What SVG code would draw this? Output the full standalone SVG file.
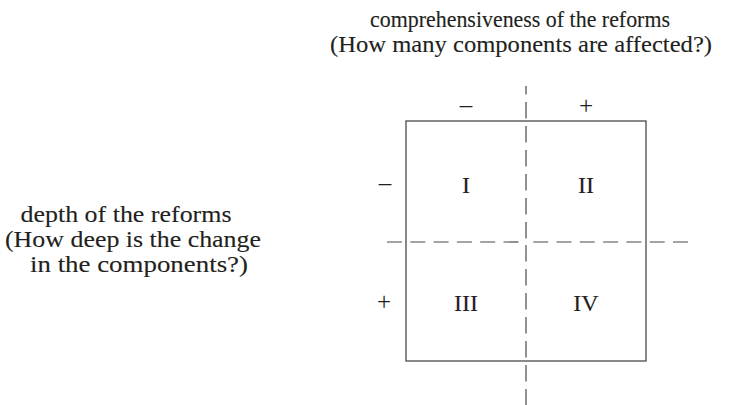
<svg xmlns="http://www.w3.org/2000/svg" width="738" height="405" viewBox="0 0 738 405">
<style>
.lbl{font-family:"Liberation Serif","Times New Roman",serif;font-size:23px;fill:#231f20;stroke:#231f20;stroke-width:0.12;text-anchor:middle}
.num{font-family:"Liberation Serif","Times New Roman",serif;font-size:24px;fill:#231f20;stroke:#231f20;stroke-width:0.12;text-anchor:middle}
.sgn{font-family:"Liberation Serif","Times New Roman",serif;font-size:25px;fill:#231f20;text-anchor:middle}
.box{fill:none;stroke:#4a4a4a;stroke-width:1.3}
.dh{stroke:#4a4a4a;stroke-width:1.2;stroke-dasharray:15 8.3;fill:none}
.dv{stroke:#4a4a4a;stroke-width:1.2;stroke-dasharray:16.5 7.5;fill:none}
</style>
<rect width="738" height="405" fill="#ffffff"/>
<g id="axis-top-label">
<text class="lbl" x="520" y="27" textLength="300" lengthAdjust="spacingAndGlyphs">comprehensiveness of the reforms</text>
<text class="lbl" x="521" y="52" textLength="382" lengthAdjust="spacingAndGlyphs">(How many components are affected?)</text>
</g>
<g id="axis-left-label">
<text class="lbl" x="126" y="222" textLength="211" lengthAdjust="spacingAndGlyphs">depth of the reforms</text>
<text class="lbl" x="133" y="247" textLength="256" lengthAdjust="spacingAndGlyphs">(How deep is the change</text>
<text class="lbl" x="139" y="272" textLength="218" lengthAdjust="spacingAndGlyphs">in the components?)</text>
</g>
<g id="signs">
<text class="sgn" x="466" y="113">–</text>
<text class="sgn" x="586" y="114">+</text>
<text class="sgn" x="385" y="191">–</text>
<text class="sgn" x="384" y="310">+</text>
</g>
<g id="matrix">
<rect class="box" x="406" y="121" width="240" height="240"/>
</g>
<g id="connectors">
<line class="dv" x1="526" y1="86" x2="526" y2="94.5"/>
<line class="dv" x1="526" y1="102" x2="526" y2="242"/>
<line class="dv" x1="526" y1="245" x2="526" y2="406"/>
<line class="dh" x1="387" y1="242" x2="526" y2="242"/>
<line class="dh" x1="688" y1="242" x2="526" y2="242"/>
</g>
<g id="quadrant-I"><text class="num" x="466" y="193">I</text></g>
<g id="quadrant-II"><text class="num" x="586" y="193">II</text></g>
<g id="quadrant-III"><text class="num" x="466" y="311">III</text></g>
<g id="quadrant-IV"><text class="num" x="586" y="311">IV</text></g>
</svg>
